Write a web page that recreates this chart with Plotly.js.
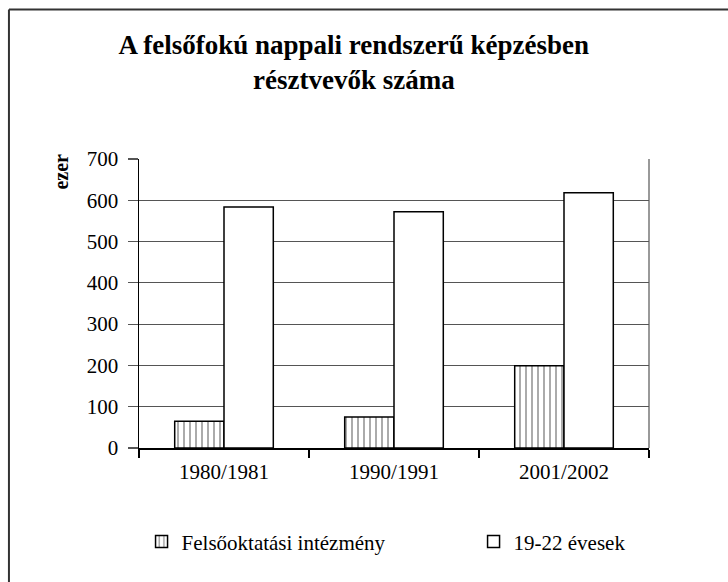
<!DOCTYPE html>
<html>
<head>
<meta charset="utf-8">
<script src="https://cdn.plot.ly/plotly-3.0.1.min.js"></script>
<style>html,body{margin:0;padding:0;background:#fff;}#chart{width:728px;height:582px;}</style>
</head>
<body>
<div id="chart"></div>
<script>
const categories = ["1980/1981", "1990/1991", "2001/2002"];
const seriesNames = ["Felsőoktatási intézmény", "19-22 évesek"];
const institutionValues = [65, 75, 199];
const ageGroupValues = [584, 572, 618];
const yTicks = [0, 100, 200, 300, 400, 500, 600, 700];
const chartTitle = "A felsőfokú nappali rendszerű képzésben<br>résztvevők száma";
const yTitle = "ezer";

const serif = "Liberation Serif, serif";

const traces = [
  {
    type: "bar", name: seriesNames[0], x: categories, y: institutionValues, legend: "legend",
    marker: {color: "#ffffff", line: {color: "#000000", width: 1.5},
      pattern: {shape: "|", fgcolor: "#000000", bgcolor: "#ffffff", size: 6, solidity: 0.22, fillmode: "overlay"}},
    hoverinfo: "skip"
  },
  {
    type: "bar", name: seriesNames[1], x: categories, y: ageGroupValues, legend: "legend2",
    marker: {color: "#ffffff", line: {color: "#000000", width: 1.5}},
    hoverinfo: "skip"
  }
];

const legendCommon = {orientation: "h", xanchor: "left", y: -0.325, yanchor: "middle",
  font: {family: serif, size: 21, color: "#000"}, bgcolor: "rgba(0,0,0,0)"};

const layout = {
  width: 728, height: 582,
  margin: {l: 139, r: 79, t: 159, b: 134},
  paper_bgcolor: "#ffffff", plot_bgcolor: "#ffffff",
  font: {family: serif, size: 21, color: "#000000"},
  title: {text: chartTitle, font: {family: serif, size: 27, color: "#000", weight: "bold"},
    x: 0.486, xanchor: "center", y: 0.908, yanchor: "top", yref: "container"},
  barmode: "group", bargap: 0.42, bargroupgap: 0,
  showlegend: true,
  legend: Object.assign({}, legendCommon, {x: 0.005}),
  legend2: Object.assign({}, legendCommon, {x: 0.656}),
  xaxis: {type: "category", showline: true, linecolor: "#000", linewidth: 1.5,
    ticks: "outside", tickson: "boundaries", ticklen: 8, tickcolor: "#000", tickwidth: 1.5,
    showgrid: false, zeroline: false, tickfont: {family: serif, size: 21, color: "#000"},
    ticklabelstandoff: 4, fixedrange: true},
  yaxis: {range: [0, 700], tickvals: yTicks, ticktext: yTicks.map(String),
    showline: true, linecolor: "#000", linewidth: 1.5,
    ticks: "outside", ticklen: 10, tickcolor: "#555", tickwidth: 1.2,
    showgrid: true, gridcolor: "#555", gridwidth: 1.2, zeroline: false,
    tickfont: {family: serif, size: 21, color: "#000"}, ticklabelstandoff: 5, fixedrange: true},
  annotations: [
    {text: yTitle, xref: "paper", yref: "paper", x: -0.152, y: 0.958, xanchor: "center", yanchor: "middle",
      textangle: -90, showarrow: false, font: {family: serif, size: 20, color: "#000", weight: "bold"}}
  ],
  shapes: [
    {type: "line", xref: "x domain", yref: "y domain", x0: 1, x1: 1, y0: 0, y1: 1,
      line: {color: "#777", width: 1.5}, layer: "below"},
    {type: "line", xref: "paper", yref: "paper", x0: -0.255, x1: 1.2, y0: 1.517, y1: 1.517,
      line: {color: "#333", width: 2}},
    {type: "line", xref: "paper", yref: "paper", x0: -0.255, x1: -0.255, y0: 1.517, y1: -0.5,
      line: {color: "#333", width: 2}}
  ]
};

Plotly.newPlot("chart", traces, layout, {displayModeBar: false, staticPlot: true});
</script>
</body>
</html>
